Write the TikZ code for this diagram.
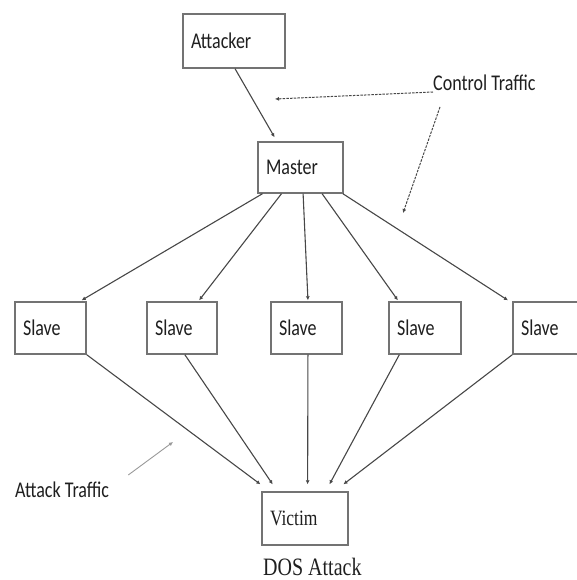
\documentclass[tikz,border=0pt]{standalone}
\usepackage{fontspec}
\usepackage{graphicx}
\setmainfont{Carlito}
\newfontfamily\tnr{Liberation Serif}
\usetikzlibrary{calc,arrows.meta}
\newcommand\tallt[1]{\scalebox{1}[1.25]{#1}}
\tikzset{
  box/.style={draw=black!55, line width=1.4pt, fill=white, inner xsep=8pt, inner ysep=0pt,
    align=left, minimum height=#1, font=\fontsize{18}{20}\selectfont, text=black!88},
  link/.style={draw=black!72, line width=1.1pt, -{Latex[length=4pt,width=4pt]}},
  ctl/.style={draw=black!72, line width=1pt, dash pattern=on 2.5pt off 1.2pt, -{Latex[length=4pt,width=4pt]}},
  atk/.style={draw=black!40, line width=0.9pt, -{Latex[length=4pt,width=4pt]}},
  lbl/.style={inner sep=0pt, font=\fontsize{18}{20}\selectfont, text=black!88}
}
\begin{document}
\begin{tikzpicture}[x=1pt,y=-1pt]
\useasboundingbox (0,0) rectangle (576,580);
% boxes
\node[box=54pt, text width=86pt] (att) at (234,41) {\tallt{Attacker}};
\node[box=51pt, text width=69pt] (mas) at (300.5,167.5) {\tallt{Master}};
\node[box=52pt, text width=55pt] (s1) at (50.5,328) {\tallt{Slave}};
\node[box=52pt, text width=54pt] (s2) at (182,328) {\tallt{Slave}};
\node[box=52pt, text width=55pt] (s3) at (306.5,328) {\tallt{Slave}};
\node[box=52pt, text width=56pt] (s4) at (425,328) {\tallt{Slave}};
\node[box=52pt, text width=55pt] (s5) at (548.5,328) {\tallt{Slave}};
\node[box=53pt, text width=70pt, font=\tnr\fontsize{17.5}{20}\selectfont] (vic) at (305,518.5) {\tallt{Victim}};
% labels
\node[lbl, anchor=west] (ct) at (433,83) {\tallt{Control Traffic}};
\node[lbl, anchor=west] (at) at (15,490) {\tallt{Attack Traffic}};
\node[inner sep=0pt, anchor=west, font=\tnr\fontsize{20}{22}\selectfont, text=black!88] (dos) at (263,566.5) {\tallt{DOS Attack}};
% attacker -> master
\draw[link] ($(att.south west)!0.51!(att.south east)$) -- ($(mas.north west)!0.2!(mas.north east)+(0,-4)$);
% master -> slaves
\draw[link] ($(mas.south west)!0.06!(mas.south east)$) -- ($(s1.north west)!0.93!(s1.north east)+(0,-1)$);
\draw[link] ($(mas.south west)!0.28!(mas.south east)$) -- ($(s2.north west)!0.74!(s2.north east)+(0,-1)$);
\draw[link] ($(mas.south west)!0.53!(mas.south east)$) -- ($(s3.north west)!0.52!(s3.north east)+(0,-1)$);
\draw[link] ($(mas.south west)!0.75!(mas.south east)$) -- ($(s4.north west)!0.13!(s4.north east)+(0,-1)$);
\draw[link] ($(mas.south west)!0.99!(mas.south east)$) -- ($(s5.north west)!-0.06!(s5.north east)+(0,-1)$);
% slaves -> victim
\draw[link] (s1.south east) -- ($(vic.north west)!-0.01!(vic.north east)+(0,-7)$);
\draw[link] ($(s2.south west)!0.54!(s2.south east)$) -- ($(vic.north west)!0.13!(vic.north east)+(0,-7)$);
\draw[link] ($(s3.south west)!0.52!(s3.south east)$) -- ($(vic.north west)!0.53!(vic.north east)+(0,-7)$);
\draw[link] ($(s4.south west)!0.15!(s4.south east)$) -- ($(vic.north west)!0.78!(vic.north east)+(0,-7)$);
\draw[link] (s5.south west) -- ($(vic.north west)!0.94!(vic.north east)+(0,-7)$);
% control traffic pointers
\coordinate (c1) at (275,99);
\coordinate (c2) at (403,213);
\draw[ctl] ($(ct.west)+(0,9)$) -- (c1);
\draw[ctl] ($(ct.west)+(7,24)$) -- (c2);
% attack traffic pointer
\coordinate (a1) at (173,442);
\draw[atk] ($(at.east)+(19,-15)$) -- (a1);
\end{tikzpicture}
\end{document}
